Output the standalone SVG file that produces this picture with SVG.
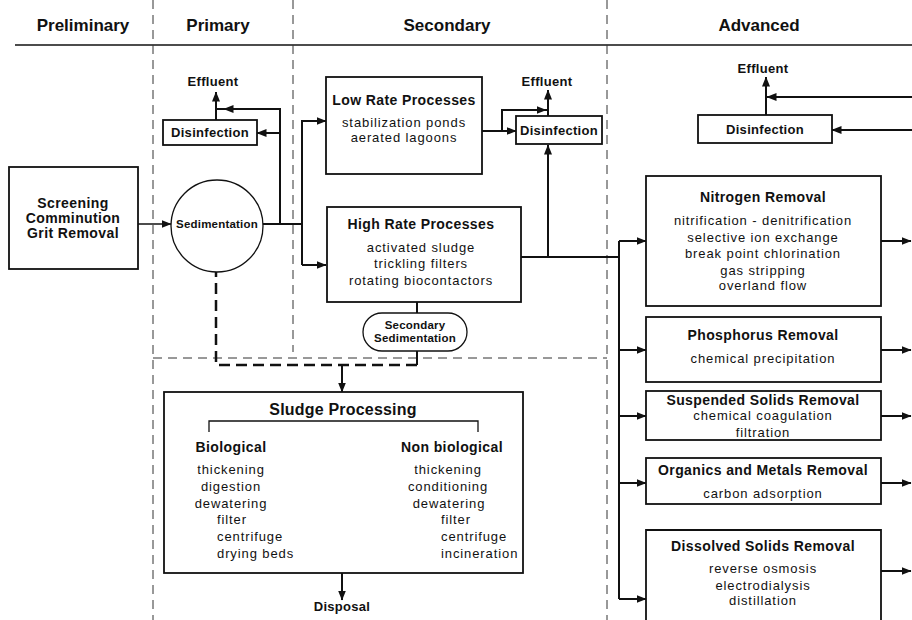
<svg xmlns="http://www.w3.org/2000/svg" width="912" height="620" viewBox="0 0 912 620">
<defs>
<marker id="arr" viewBox="0 0 10 8" refX="9.5" refY="4" markerWidth="10" markerHeight="8" markerUnits="userSpaceOnUse" orient="auto">
<path d="M0,0 L10,4 L0,8 Z" fill="#111"/>
</marker>
<style>
text{font-family:"Liberation Sans",Arial,sans-serif;fill:#111;}
.h{font-size:17px;font-weight:bold;text-anchor:middle;}
.t{font-size:14px;font-weight:bold;text-anchor:middle;letter-spacing:0.4px;}
.b{font-size:13px;font-weight:bold;text-anchor:middle;letter-spacing:0.3px;}
.s{font-size:11.5px;font-weight:bold;text-anchor:middle;letter-spacing:0.2px;}
.r{font-size:13px;text-anchor:middle;letter-spacing:0.9px;}
.l{font-size:13px;letter-spacing:0.9px;}
.box{fill:#fff;stroke:#111;stroke-width:1.8;}
.c{fill:none;stroke:#111;stroke-width:2;}
.c1{fill:none;stroke:#111;stroke-width:1.5;}
.dv{fill:none;stroke:#333;stroke-width:1;stroke-dasharray:9,6;}
.hd{fill:none;stroke:#111;stroke-width:2.5;stroke-dasharray:11,6;}
</style>
</defs>

<g id="header">
<line x1="15" y1="45" x2="912" y2="45" stroke="#111" stroke-width="1.5"/>
<text class="h" x="83" y="31">Preliminary</text>
<text class="h" x="218" y="31">Primary</text>
<text class="h" x="447" y="31">Secondary</text>
<text class="h" x="759" y="31">Advanced</text>
</g>

<g id="dividers">
<line class="dv" x1="153" y1="0" x2="153" y2="620"/>
<line class="dv" x1="293" y1="0" x2="293" y2="352"/>
<line class="dv" x1="607" y1="0" x2="607" y2="620"/>
<line class="dv" x1="153" y1="358" x2="607" y2="358"/>
</g>

<g id="connectors">
<path class="c1" d="M138,224 H171" marker-end="url(#arr)"/>
<path class="c" d="M263,224 H302"/>
<path class="c" d="M280,224 V109 H224" marker-end="url(#arr)"/>
<path class="c" d="M226,109 H216"/>
<path class="c" d="M280,133 H257" marker-end="url(#arr)"/>
<path class="c" d="M216,120 V92" marker-end="url(#arr)"/>
<path class="c" d="M302,265 V121 H326" marker-end="url(#arr)"/>
<path class="c" d="M302,265 H326" marker-end="url(#arr)"/>
<path class="c" d="M482,131 H516" marker-end="url(#arr)"/>
<path class="c" d="M502,131 V110 H546" marker-end="url(#arr)"/>
<path class="c" d="M544,110 H548"/>
<path class="c" d="M548,116 V90" marker-end="url(#arr)"/>
<path class="c" d="M521,257 H619"/>
<path class="c" d="M548,257 V145" marker-end="url(#arr)"/>
<path class="c" d="M619,241 V599"/>
<path class="c" d="M619,241 H646" marker-end="url(#arr)"/>
<path class="c" d="M619,350 H646" marker-end="url(#arr)"/>
<path class="c" d="M619,416 H646" marker-end="url(#arr)"/>
<path class="c" d="M619,483 H646" marker-end="url(#arr)"/>
<path class="c" d="M619,599 H646" marker-end="url(#arr)"/>
<path class="c" d="M881,241 H911" marker-end="url(#arr)"/>
<path class="c" d="M881,350 H911" marker-end="url(#arr)"/>
<path class="c" d="M881,416 H911" marker-end="url(#arr)"/>
<path class="c" d="M881,483 H911" marker-end="url(#arr)"/>
<path class="c" d="M881,571 H911" marker-end="url(#arr)"/>
<path class="c" d="M912,97 H767" marker-end="url(#arr)"/>
<path class="c" d="M766,115 V77" marker-end="url(#arr)"/>
<path class="c" d="M912,130 H832" marker-end="url(#arr)"/>
<path class="c" d="M417,302 V313"/>
<path class="c" d="M417,351 V365"/>
<path class="hd" d="M417,365 H216 V272"/>
<path class="c" d="M342,365 V392" marker-end="url(#arr)"/>
<path class="c" d="M342,573 V600" marker-end="url(#arr)"/>
</g>

<g id="screening">
<rect class="box" x="9" y="167" width="129" height="102"/>
<text class="t" x="73" y="208">Screening</text>
<text class="t" x="73" y="223">Comminution</text>
<text class="t" x="73" y="238">Grit Removal</text>
</g>

<g id="sedimentation">
<circle cx="217" cy="226" r="46" fill="#fff" stroke="#111" stroke-width="1.3"/>
<text class="s" x="217" y="228">Sedimentation</text>
</g>

<g id="disinfection-primary">
<rect class="box" x="163" y="120" width="94" height="25"/>
<text class="b" x="210" y="137">Disinfection</text>
</g>
<g id="effluent-primary"><text class="b" x="213" y="86">Effluent</text></g>

<g id="low-rate">
<rect class="box" x="326" y="77" width="156" height="97"/>
<text class="t" x="404" y="105">Low Rate Processes</text>
<text class="r" x="404" y="127">stabilization ponds</text>
<text class="r" x="404" y="142">aerated lagoons</text>
</g>

<g id="high-rate">
<rect class="box" x="327" y="207" width="194" height="95"/>
<text class="t" x="421" y="229">High Rate Processes</text>
<text class="r" x="421" y="252">activated sludge</text>
<text class="r" x="421" y="268">trickling filters</text>
<text class="r" x="421" y="285">rotating biocontactors</text>
</g>

<g id="secondary-sedimentation">
<rect x="363" y="313" width="104" height="38" rx="19" ry="19" fill="#fff" stroke="#111" stroke-width="1.3"/>
<text class="s" x="415" y="329">Secondary</text>
<text class="s" x="415" y="342">Sedimentation</text>
</g>

<g id="disinfection-secondary">
<rect class="box" x="516" y="116" width="86" height="28"/>
<text class="b" x="559" y="135">Disinfection</text>
</g>
<g id="effluent-secondary"><text class="b" x="547" y="86">Effluent</text></g>

<g id="disinfection-advanced">
<rect class="box" x="698" y="115" width="134" height="28"/>
<text class="b" x="765" y="134">Disinfection</text>
</g>
<g id="effluent-advanced"><text class="b" x="763" y="73">Effluent</text></g>

<g id="sludge-processing">
<rect class="box" x="164" y="392" width="359" height="181"/>
<text x="343" y="415" style="font-size:16px;font-weight:bold;text-anchor:middle;letter-spacing:0.2px">Sludge Processing</text>
<path d="M209,432 V421 H478 V432" fill="none" stroke="#111" stroke-width="1.3"/>
<text class="t" x="231" y="452">Biological</text>
<text class="r" x="231" y="474">thickening</text>
<text class="r" x="231" y="491">digestion</text>
<text class="r" x="231" y="508">dewatering</text>
<text class="l" x="217" y="524">filter</text>
<text class="l" x="217" y="541">centrifuge</text>
<text class="l" x="217" y="558">drying beds</text>
<text class="t" x="452" y="452">Non biological</text>
<text class="r" x="448" y="474">thickening</text>
<text class="r" x="448" y="491">conditioning</text>
<text class="r" x="449" y="508">dewatering</text>
<text class="l" x="441" y="524">filter</text>
<text class="l" x="441" y="541">centrifuge</text>
<text class="l" x="441" y="558">incineration</text>
</g>
<g id="disposal"><text class="b" x="342" y="611">Disposal</text></g>

<g id="nitrogen">
<rect class="box" x="646" y="176" width="235" height="130"/>
<text class="t" x="763" y="202">Nitrogen Removal</text>
<text class="r" x="763" y="225">nitrification - denitrification</text>
<text class="r" x="763" y="242">selective ion exchange</text>
<text class="r" x="763" y="258">break point chlorination</text>
<text class="r" x="763" y="275">gas stripping</text>
<text class="r" x="763" y="290">overland flow</text>
</g>

<g id="phosphorus">
<rect class="box" x="646" y="317" width="235" height="65"/>
<text class="t" x="763" y="340">Phosphorus Removal</text>
<text class="r" x="763" y="363">chemical precipitation</text>
</g>

<g id="suspended">
<rect class="box" x="646" y="391" width="235" height="49"/>
<text class="t" x="763" y="405">Suspended Solids Removal</text>
<text class="r" x="763" y="420">chemical coagulation</text>
<text class="r" x="763" y="437">filtration</text>
</g>

<g id="organics">
<rect class="box" x="646" y="458" width="235" height="46"/>
<text class="t" x="763" y="475">Organics and Metals Removal</text>
<text class="r" x="763" y="498">carbon adsorption</text>
</g>

<g id="dissolved">
<path d="M646,625 V530 H881 V625" class="box"/>
<text class="t" x="763" y="551">Dissolved Solids Removal</text>
<text class="r" x="763" y="573">reverse osmosis</text>
<text class="r" x="763" y="590">electrodialysis</text>
<text class="r" x="763" y="605">distillation</text>
</g>
</svg>
